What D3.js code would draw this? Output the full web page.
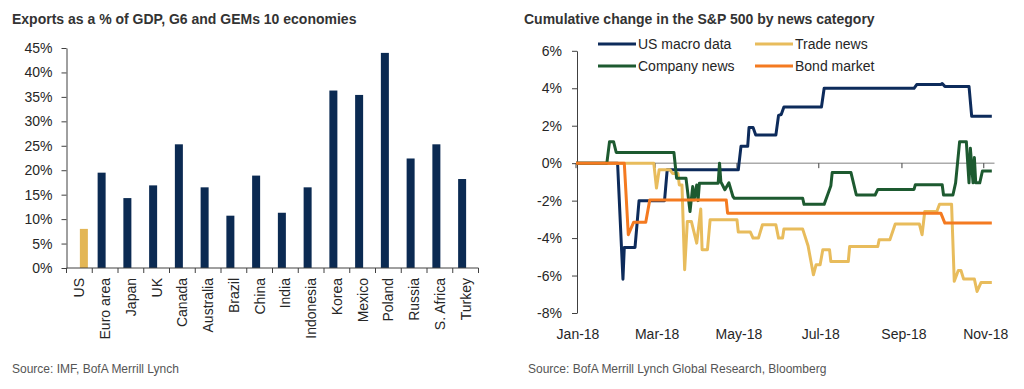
<!DOCTYPE html>
<html>
<head>
<meta charset="utf-8">
<script src="https://cdn.jsdelivr.net/npm/d3@7/dist/d3.min.js"></script>
<style>
    body { margin: 0; background: #fff; }
    svg { font-family: "Liberation Sans", Arial, sans-serif; }
    text { fill: #262626; }
</style>
</head>
<body>
<svg id="chart" width="1024" height="389"></svg>
<script>
// ---- left chart data
var countries = ["US", "Euro area", "Japan", "UK", "Canada", "Australia", "Brazil", "China",
    "India", "Indonesia", "Korea", "Mexico", "Poland", "Russia", "S. Africa", "Turkey"];
var exportsPct = [8.0, 19.5, 14.3, 16.9, 25.3, 16.5, 10.7, 18.9, 11.3, 16.5, 36.3, 35.4, 44.0, 22.4, 25.3, 18.2];
var barTicks = [0, 5, 10, 15, 20, 25, 30, 35, 40, 45];

// ---- right chart data (date, cumulative % change)
var usMacro = [["2018-01-01", 0], ["2018-02-01", 0], ["2018-02-05", -6.2], ["2018-02-06", -4.5],
    ["2018-02-14", -4.5], ["2018-02-17", -2.0], ["2018-03-08", -2.0], ["2018-03-10", -0.35],
    ["2018-05-02", -0.35], ["2018-05-04", 0.9], ["2018-05-09", 0.9], ["2018-05-10", 1.9],
    ["2018-05-13", 1.9], ["2018-05-15", 1.5], ["2018-05-30", 1.5], ["2018-06-01", 2.55],
    ["2018-06-03", 2.6], ["2018-06-05", 3.0], ["2018-07-03", 3.0], ["2018-07-05", 4.0],
    ["2018-09-10", 4.0], ["2018-09-12", 4.2], ["2018-09-30", 4.2], ["2018-10-01", 4.25],
    ["2018-10-03", 4.1], ["2018-10-21", 4.1], ["2018-10-23", 2.5], ["2018-11-07", 2.5]];
var tradeNews = [["2018-01-01", 0], ["2018-02-28", 0], ["2018-03-02", -1.33], ["2018-03-04", -0.35],
    ["2018-03-12", -0.35], ["2018-03-14", -0.55], ["2018-03-18", -0.55], ["2018-03-19", -1.16],
    ["2018-03-21", -1.16], ["2018-03-23", -5.69], ["2018-03-25", -3.11], ["2018-03-28", -3.11],
    ["2018-04-01", -4.27], ["2018-04-04", -2.45], ["2018-04-05", -4.62], ["2018-04-09", -4.62],
    ["2018-04-11", -3.02], ["2018-05-01", -3.02], ["2018-05-02", -3.68], ["2018-05-11", -3.68],
    ["2018-05-13", -4.0], ["2018-05-17", -4.0], ["2018-05-20", -3.29], ["2018-05-30", -3.29],
    ["2018-06-01", -4.0], ["2018-06-04", -4.0], ["2018-06-05", -3.52], ["2018-06-19", -3.52],
    ["2018-06-23", -4.41], ["2018-06-27", -5.96], ["2018-06-29", -5.42], ["2018-07-02", -5.42],
    ["2018-07-04", -4.62], ["2018-07-09", -4.62], ["2018-07-10", -5.25], ["2018-07-23", -5.25],
    ["2018-07-24", -4.45], ["2018-08-14", -4.45], ["2018-08-15", -4.09], ["2018-08-23", -4.09],
    ["2018-08-27", -3.25], ["2018-09-14", -3.25], ["2018-09-16", -3.82], ["2018-09-18", -2.58],
    ["2018-09-27", -2.58], ["2018-09-29", -2.19], ["2018-10-08", -2.19], ["2018-10-10", -6.31],
    ["2018-10-13", -5.73], ["2018-10-15", -5.73], ["2018-10-17", -6.19], ["2018-10-25", -6.19],
    ["2018-10-27", -6.85], ["2018-10-30", -6.37], ["2018-11-07", -6.37]];
var companyNews = [["2018-01-01", 0], ["2018-01-24", 0], ["2018-01-26", 1.15], ["2018-01-29", 1.15],
    ["2018-01-31", 0.57], ["2018-03-15", 0.57], ["2018-03-17", -0.8], ["2018-03-24", -0.8],
    ["2018-03-27", -2.58], ["2018-03-29", -1.25], ["2018-03-30", -1.96], ["2018-04-01", -1.16],
    ["2018-04-02", -2.0], ["2018-04-03", -1.07], ["2018-04-17", -1.07], ["2018-04-18", 0],
    ["2018-04-19", -1.0], ["2018-04-22", -1.42], ["2018-04-25", -1.05], ["2018-04-28", -1.78],
    ["2018-04-29", -1.87], ["2018-06-19", -1.87], ["2018-06-20", -2.2], ["2018-07-05", -2.2],
    ["2018-07-08", -1.6], ["2018-07-10", -1.2], ["2018-07-11", -0.5], ["2018-07-25", -0.5],
    ["2018-07-29", -1.7], ["2018-08-12", -1.7], ["2018-08-14", -1.4], ["2018-09-10", -1.4],
    ["2018-09-11", -1.15], ["2018-10-01", -1.15], ["2018-10-02", -1.7], ["2018-10-09", -1.7],
    ["2018-10-11", -1.05], ["2018-10-14", 1.15], ["2018-10-19", 1.15], ["2018-10-21", -1.05],
    ["2018-10-22", 0.8], ["2018-10-24", -1.05], ["2018-10-25", 0.3], ["2018-10-26", -1.05],
    ["2018-10-29", -1.05], ["2018-10-31", -0.42], ["2018-11-07", -0.42]];
var bondMarket = [["2018-01-01", 0], ["2018-02-06", 0], ["2018-02-09", -3.82], ["2018-02-13", -3.15],
    ["2018-02-22", -3.15], ["2018-02-25", -1.96], ["2018-04-23", -1.96], ["2018-04-24", -2.67],
    ["2018-09-30", -2.67], ["2018-10-03", -3.2], ["2018-11-07", -3.2]];
var lineTicks = [-8, -6, -4, -2, 0, 2, 4, 6];
var monthTicks = ["2018-01-01", "2018-03-01", "2018-05-01", "2018-07-01", "2018-09-01", "2018-11-01"];

var svg = d3.select("#chart");
var parseDate = d3.timeParse("%Y-%m-%d");
var axisColor = "#404040";

// ================= left: bar chart =================
svg.append("text").attr("x", 12).attr("y", 24)
    .style("font-size", "14px").style("font-weight", "bold").style("fill", "#333")
    .text("Exports as a % of GDP, G6 and GEMs 10 economies");

var x = d3.scaleBand().domain(countries).range([66.5, 478.5]);
var y = d3.scaleLinear().domain([0, 45]).range([268, 48]);
// two series per band, like the original: dark for others, gold for US
var xs = d3.scaleBand().domain(["dark", "gold"])
    .range([x.bandwidth() / 2 - 7.5, x.bandwidth() / 2 + 8.5]);

var yAxisL = svg.append("g").attr("transform", "translate(66.5,0)")
    .call(d3.axisLeft(y).tickValues(barTicks).tickFormat(function(d) { return d + "%"; })
        .tickSizeInner(5).tickSizeOuter(0).tickPadding(9));
yAxisL.selectAll("path, line").attr("stroke", axisColor);
yAxisL.selectAll("text").style("font-size", "14px").style("font-family", "Liberation Sans, Arial").style("fill", "#262626");

svg.selectAll("rect.bar")
    .data(countries)
    .enter()
    .append("rect")
    .attr("class", "bar")
    .attr("x", function(d) { return x(d) + xs(d === "US" ? "gold" : "dark"); })
    .attr("width", xs.bandwidth())
    .attr("y", function(d, i) { return y(exportsPct[i]); })
    .attr("height", function(d, i) { return y(0) - y(exportsPct[i]); })
    .attr("fill", function(d) { return d === "US" ? "#E3B655" : "#0B2A52"; });

// x axis line with ticks between categories
svg.append("line").attr("x1", 66.5).attr("x2", 478.5).attr("y1", y(0)).attr("y2", y(0))
    .attr("stroke", axisColor);
svg.selectAll("line.cat-tick")
    .data(d3.range(countries.length + 1))
    .enter()
    .append("line")
    .attr("class", "cat-tick")
    .attr("x1", function(i) { return x.range()[0] + i * x.step(); })
    .attr("x2", function(i) { return x.range()[0] + i * x.step(); })
    .attr("y1", y(0)).attr("y2", y(0) + 5)
    .attr("stroke", axisColor);

svg.selectAll("text.cat")
    .data(countries)
    .enter()
    .append("text")
    .attr("class", "cat")
    .attr("transform", function(d) {
        return "translate(" + (x(d) + x.bandwidth() / 2) + "," + 278 + ") rotate(-90)";
    })
    .attr("dy", "0.35em")
    .attr("text-anchor", "end")
    .style("font-size", "14px")
    .text(function(d) { return d; });

svg.append("text").attr("x", 12).attr("y", 373)
    .style("font-size", "12px").style("fill", "#555")
    .text("Source: IMF, BofA Merrill Lynch");

// ================= right: line chart =================
svg.append("text").attr("x", 524).attr("y", 24)
    .style("font-size", "14px").style("font-weight", "bold").style("fill", "#333")
    .text("Cumulative change in the S&P 500 by news category");

var xT = d3.scaleTime().domain([parseDate("2018-01-01"), parseDate("2018-11-09")]).range([576, 994.5]);
var yT = d3.scaleLinear().domain([-8, 6]).range([313, 50.8]);

var yAxisR = svg.append("g").attr("transform", "translate(577,0)")
    .call(d3.axisLeft(yT).tickValues(lineTicks).tickFormat(function(d) { return d + "%"; })
        .tickSizeInner(5).tickSizeOuter(0).tickPadding(10));
yAxisR.selectAll("path, line").attr("stroke", axisColor);
yAxisR.selectAll("text").style("font-size", "14px").style("font-family", "Liberation Sans, Arial").style("fill", "#262626");

// zero line doubles as the date axis
svg.append("line").attr("x1", 577).attr("x2", 994.5).attr("y1", yT(0)).attr("y2", yT(0))
    .attr("stroke", "#808080");
svg.selectAll("line.month-tick")
    .data(monthTicks)
    .enter()
    .append("line")
    .attr("class", "month-tick")
    .attr("x1", function(d) { return xT(parseDate(d)); })
    .attr("x2", function(d) { return xT(parseDate(d)); })
    .attr("y1", yT(0)).attr("y2", yT(0) + 5)
    .attr("stroke", axisColor);
svg.selectAll("text.month")
    .data(monthTicks)
    .enter()
    .append("text")
    .attr("class", "month")
    .attr("x", function(d) { return xT(parseDate(d)) + 2; })
    .attr("y", 339)
    .attr("text-anchor", "middle")
    .style("font-size", "14px")
    .text(function(d) { return d3.timeFormat("%b-%y")(parseDate(d)); });

var series = [
    { name: "US macro data", values: usMacro, color: "#0D2B5B" },
    { name: "Trade news", values: tradeNews, color: "#E8BC5C" },
    { name: "Company news", values: companyNews, color: "#1D5A30" },
    { name: "Bond market", values: bondMarket, color: "#F47A20" }
];

var line = d3.line()
    .x(function(d) { return xT(parseDate(d[0])); })
    .y(function(d) { return yT(d[1]); });

svg.selectAll("path.series")
    .data(series)
    .enter()
    .append("path")
    .attr("class", "series")
    .attr("d", function(d) { return line(d.values); })
    .attr("fill", "none")
    .attr("stroke", function(d) { return d.color; })
    .attr("stroke-width", 3)
    .attr("stroke-linejoin", "round");

// legend, two columns
var legend = svg.selectAll("g.legend")
    .data(series)
    .enter()
    .append("g")
    .attr("class", "legend")
    .attr("transform", function(d, i) {
        return "translate(" + (i % 2 === 0 ? 598 : 755) + "," + (i < 2 ? 44 : 66) + ")";
    });
legend.append("line").attr("x1", 0).attr("x2", 38).attr("y1", 0).attr("y2", 0)
    .attr("stroke", function(d) { return d.color; }).attr("stroke-width", 3);
legend.append("text").attr("x", 40).attr("dy", "0.35em")
    .style("font-size", "14px")
    .text(function(d) { return d.name; });

svg.append("text").attr("x", 528).attr("y", 373)
    .style("font-size", "12px").style("fill", "#555")
    .text("Source: BofA Merrill Lynch Global Research, Bloomberg");
</script>
</body>
</html>
